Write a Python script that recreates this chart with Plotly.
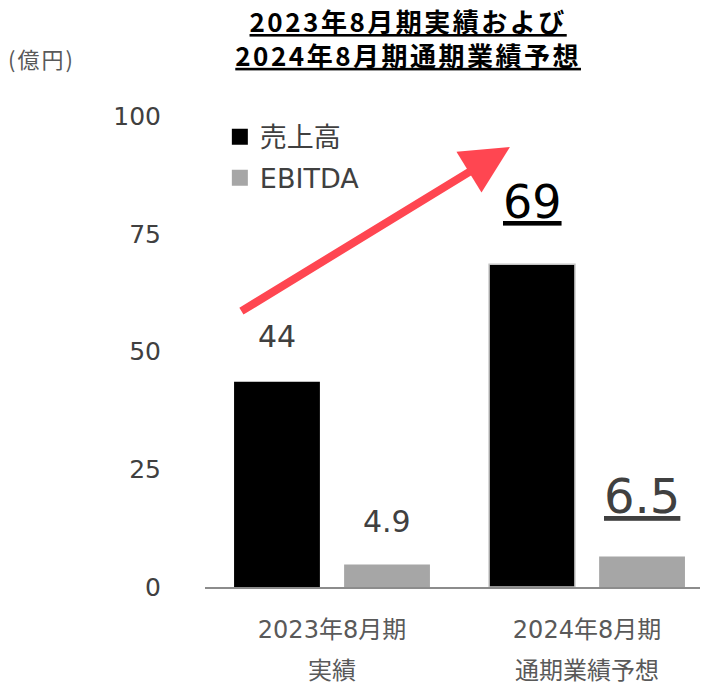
import plotly.graph_objects as go

# ---- data ----
periods = ["2023年8月期", "2024年8月期"]
period_kinds = ["実績", "通期業績予想"]
revenue = [43.6, 68.5]
ebitda = [4.8, 6.5]
revenue_labels = ["44", "69"]
ebitda_labels = ["4.9", "6.5"]
y_ticks = [0, 25, 50, 75, 100]

# ---- style ----
FONT = "DejaVu Sans, Noto Sans CJK JP, sans-serif"
CJK = "Noto Sans CJK JP, sans-serif"
BLACK = "#000000"
GRAY = "#A6A6A6"
BARGAP = 0.137
X_RANGE = [-0.498, 1.443]
x_pos = list(range(len(periods)))
slot = (1 - BARGAP) / 2
off = slot / 2

fig = go.Figure()
fig.add_trace(go.Bar(
    x=x_pos, y=revenue, name="売上高", legendgroup="a", showlegend=False,
    marker=dict(color=BLACK, line=dict(color=["rgba(0,0,0,0)", "#C4C4C4"], width=[0, 1.5])),
    hoverinfo="skip",
))
fig.add_trace(go.Bar(
    x=x_pos, y=ebitda, name="EBITDA", legendgroup="b", showlegend=False,
    marker=dict(color=GRAY, line=dict(width=0)),
    hoverinfo="skip",
))
# legend swatches (larger squares than bar legend icons)
fig.add_trace(go.Scatter(
    x=[None], y=[None], mode="markers", name="売上高", legendgroup="a",
    marker=dict(symbol="square", size=19, color=BLACK), hoverinfo="skip",
))
fig.add_trace(go.Scatter(
    x=[None], y=[None], mode="markers", name="EBITDA", legendgroup="b",
    marker=dict(symbol="square", size=19, color=GRAY), hoverinfo="skip",
))
# carrier for second row of category labels
fig.add_trace(go.Scatter(
    x=x_pos, y=[None] * len(x_pos), xaxis="x2", mode="markers",
    showlegend=False, hoverinfo="skip",
))

# data labels
for i in x_pos:
    is_fc = i == 1
    fig.add_annotation(
        x=x_pos[i] - off, y=revenue[i], xref="x", yref="y",
        text=("<u>%s</u>" % revenue_labels[i]) if is_fc else revenue_labels[i],
        showarrow=False, yanchor="middle",
        yshift=62 if is_fc else 45,
        font=dict(family=FONT, size=46 if is_fc else 30, color=BLACK if is_fc else "#404040"),
    )
    fig.add_annotation(
        x=x_pos[i] + off, y=ebitda[i], xref="x", yref="y",
        text=("<u>%s</u>" % ebitda_labels[i]) if is_fc else ebitda_labels[i],
        showarrow=False, yanchor="middle",
        yshift=60 if is_fc else 43,
        font=dict(family=FONT, size=48 if is_fc else 30, color="#404040"),
    )

# growth arrow
fig.add_annotation(
    x=0.616, y=0.934, xref="paper", yref="paper",
    ax=-270, ay=165, text="", showarrow=True,
    arrowhead=2, arrowsize=1.2, arrowwidth=8, arrowcolor="#FF4651", standoff=0,
)

# unit label
fig.add_annotation(
    x=(6 - 205) / 495, y=(587 - 58) / 471, xref="paper", yref="paper",
    xanchor="left", yanchor="middle",
    text="<span style='letter-spacing:2px'>(億円)</span>", showarrow=False,
    font=dict(family=CJK, size=22, color="#595959"),
)

fig.update_layout(
    width=712, height=685,
    margin=dict(l=197, r=20, t=108, b=106),
    paper_bgcolor="white", plot_bgcolor="white",
    barmode="group", bargap=BARGAP, bargroupgap=0.22,
    title=dict(
        text="<span style='letter-spacing:2.5px'><u>2023年8月期実績および</u><br><u>2024年8月期通期業績予想</u></span>",
        x=0.562, xanchor="center", xref="container",
        y=1 - 24 / 685, yanchor="top", yref="container",
        font=dict(family=CJK, size=26, color=BLACK, weight="bold"),
        automargin=False,
    ),
    showlegend=True,
    legend=dict(
        x=0.03, y=1.007, xanchor="left", yanchor="top",
        font=dict(family=FONT, size=27, color="#404040"),
        tracegroupgap=3, bgcolor="rgba(0,0,0,0)", itemsizing="trace",
    ),
    xaxis=dict(
        range=X_RANGE, tickmode="array", tickvals=x_pos, ticktext=periods,
        ticks="outside", ticklen=20, tickcolor="rgba(0,0,0,0)",
        showline=True, linecolor="#8C8C8C", linewidth=2,
        showgrid=False, zeroline=False, fixedrange=True, automargin=False,
        tickfont=dict(family=FONT, size=24, color="#595959"),
    ),
    xaxis2=dict(
        overlaying="x", anchor="y", side="bottom",
        range=X_RANGE, tickmode="array", tickvals=x_pos, ticktext=period_kinds,
        ticks="outside", ticklen=62, tickcolor="rgba(0,0,0,0)",
        showline=False, showgrid=False, zeroline=False, fixedrange=True, automargin=False,
        tickfont=dict(family=FONT, size=24, color="#595959"),
    ),
    yaxis=dict(
        range=[0, 100], tickmode="array", tickvals=y_ticks,
        ticks="outside", ticklen=38, tickcolor="rgba(0,0,0,0)",
        showline=False, showgrid=False, zeroline=False, fixedrange=True, automargin=False,
        tickfont=dict(family=FONT, size=25, color="#404040"),
    ),
)

fig.write_html("out.html")
